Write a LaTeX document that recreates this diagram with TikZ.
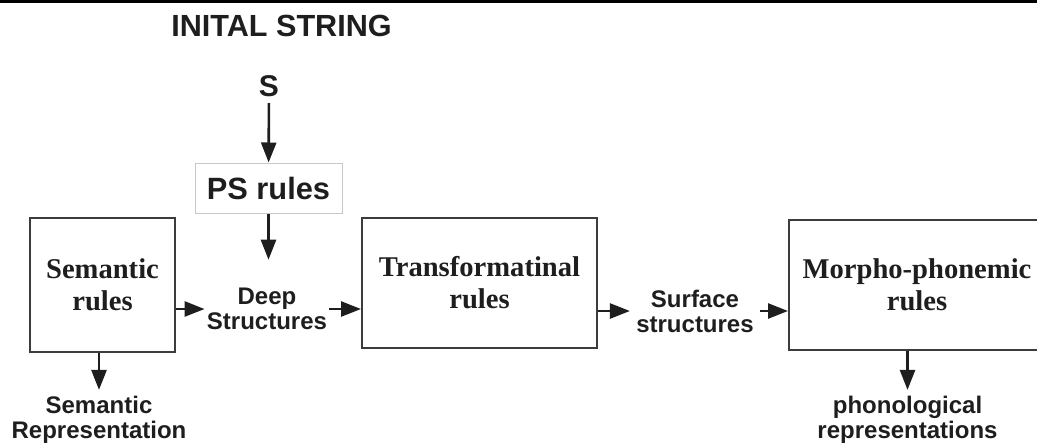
\documentclass[tikz,border=0pt]{standalone}
\usepackage{fontspec}
\setmainfont{Liberation Serif}
\setsansfont{Liberation Sans}
\usepackage{tikz}
\usetikzlibrary{arrows.meta}
\definecolor{ink}{HTML}{1E1E1E}
\definecolor{boxline}{HTML}{3C3C3C}
\definecolor{psline}{HTML}{C8C8C8}
\tikzset{
  lbl/.style={font=\sffamily\bfseries\fontsize{12}{12.5}\selectfont, text=ink, align=center, inner sep=1pt},
  rulebox/.style={draw=boxline, line width=1pt, text=ink, align=center, inner sep=0pt,
    font=\bfseries\fontsize{14.3}{16}\selectfont},
  arr/.style={-{Triangle[length=10pt,width=7.5pt]}, line width=1.3pt, draw=ink}
}

\begin{document}
\begin{tikzpicture}[x=0.5pt, y=-0.5pt]
  \clip (0,0) rectangle (1037,445);
  % top rule
  \draw[line width=1.5pt] (0,1.5) -- (1037,1.5);
  % start symbol
  \node[lbl, font=\sffamily\bfseries\fontsize{15.3}{16}\selectfont] (title) at (281.5,26) {INITAL STRING};
  \node[lbl, font=\sffamily\bfseries\fontsize{15}{16}\selectfont, inner sep=3pt] (s) at (269,86) {S};
  \node[draw=psline, line width=0.5pt, text=ink, inner sep=0pt, minimum width=73.5pt, minimum height=25pt,
    font=\sffamily\bfseries\fontsize{15.4}{16}\selectfont] (ps) at (268.5,188) {PS rules};
  % rule boxes
  \node[rulebox, minimum width=72.5pt, minimum height=67pt] (sem) at (102.5,285) {Semantic\\rules};
  \node[rulebox, minimum width=117.5pt, minimum height=65pt] (trans) at (479.5,283) {Transformatinal\\rules};
  \node[rulebox, minimum width=128pt, minimum height=65pt] (morph) at (917,285) {Morpho-phonemic\\rules};
  % structures
  \node[lbl] (deep) at (267,309) {Deep\\Structures};
  \node[lbl, inner sep=3pt] (surf) at (695,311) {Surface\\structures};
  \node[lbl, inner sep=3pt] (semrep) at (99,420) {Semantic\\Representation};
  \node[lbl, inner sep=3pt] (phon) at (907.5,420) {phonological\\representations};
  % arrows
  \draw[arr] (s) -- (ps);
  \draw[arr, shorten >=13pt] (ps.south) -- (ps.south |- deep.north);
  \draw[arr] (sem.east |- deep) -- (deep.west);
  \draw[arr] (deep.east) -- (trans.west |- deep);
  \draw[arr] (trans.east |- surf) -- (surf.west);
  \draw[arr] (surf.east) -- (morph.west |- surf);
  \draw[arr] (sem.south -| semrep) -- (semrep.north);
  \draw[arr] (morph.south -| phon) -- (phon.north);
\end{tikzpicture}
\end{document}
